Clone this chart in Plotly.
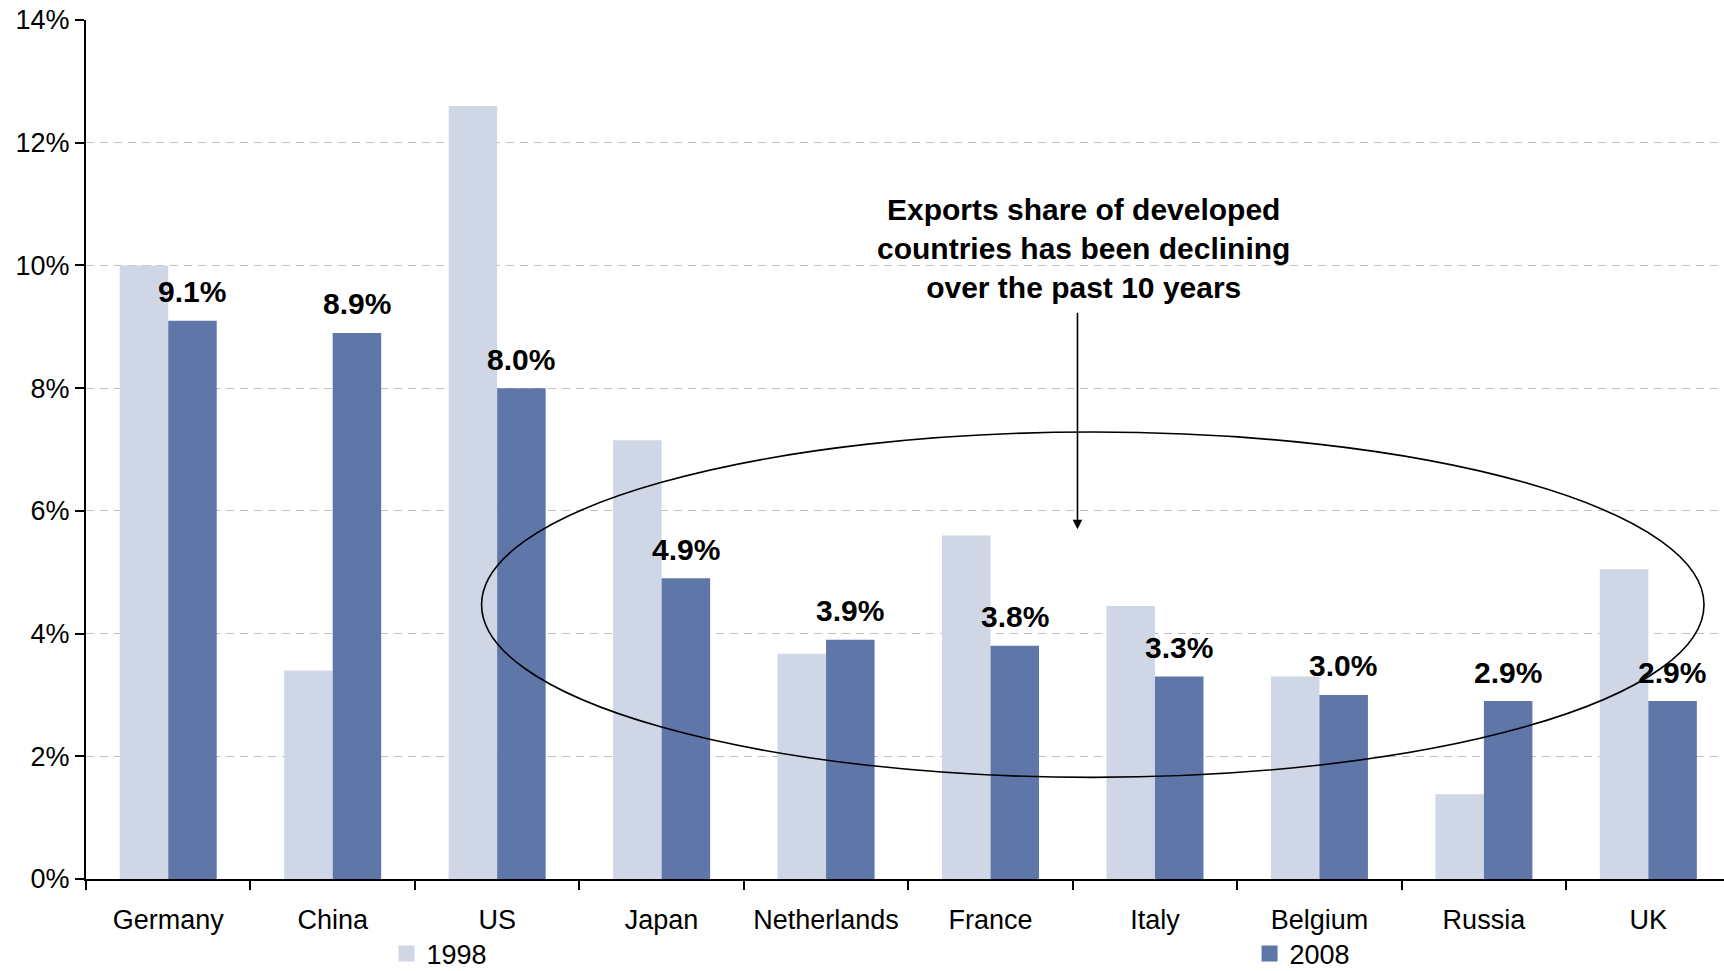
import plotly.graph_objects as go

# Share of world exports by country, 1998 vs 2008 (%)
countries = ["Germany", "China", "US", "Japan", "Netherlands",
             "France", "Italy", "Belgium", "Russia", "UK"]
share_1998 = [10.0, 3.4, 12.6, 7.15, 3.67, 5.6, 4.45, 3.3, 1.38, 5.05]
share_2008 = [9.1, 8.9, 8.0, 4.9, 3.9, 3.8, 3.3, 3.0, 2.9, 2.9]
series_names = ["1998", "2008"]
y_ticks = [0, 2, 4, 6, 8, 10, 12, 14]
y_tick_labels = ["0%", "2%", "4%", "6%", "8%", "10%", "12%", "14%"]

note = ("Exports share of developed<br>countries has been declining"
        "<br>over the past 10 years")

LIGHT = "#CFD6E6"
DARK = "#5F76A9"
FONT = "Liberation Sans, Arial, sans-serif"
colors = [LIGHT, DARK]

fig = go.Figure()
for name, vals, col in zip(series_names, [share_1998, share_2008], colors):
    fig.add_trace(go.Bar(x=countries, y=vals, name=name, showlegend=False,
                         marker=dict(color=col, line=dict(width=0))))

# legend keys: one square swatch per series, each in its own legend box
for i, (name, col) in enumerate(zip(series_names, colors)):
    fig.add_trace(go.Scatter(x=[None], y=[None], name=name, mode="markers",
                             marker=dict(symbol="square", size=16, color=col),
                             legend="legend" if i == 0 else "legend2"))

# value labels above the 2008 bars
for c, v in zip(countries, share_2008):
    fig.add_annotation(x=c, y=v, text=f"<b>{v:.1f}%</b>", showarrow=False,
                       xref="x", yref="y", xshift=24, yshift=29,
                       yanchor="middle",
                       font=dict(family=FONT, size=30, color="black"))

# callout text and arrow
fig.add_annotation(x=0.609, xref="paper", y=10.28, yref="y", text=f"<b>{note}</b>",
                   showarrow=False, xanchor="center", yanchor="middle",
                   font=dict(family=FONT, size=30, color="black"))
fig.add_annotation(x=0.6053, xref="paper", y=5.70, yref="y",
                   ax=0, ay=-218, axref="pixel", ayref="pixel",
                   text="", showarrow=True, arrowhead=2, arrowsize=1.2,
                   arrowwidth=1.6, arrowcolor="black")

# ellipse around the developed economies
fig.add_shape(type="circle", xref="paper", yref="y",
              x0=0.2415, x1=0.9878, y0=1.656, y1=7.285,
              line=dict(color="black", width=1.6))

legend_common = dict(orientation="h", xanchor="left", yanchor="middle",
                     xref="container", yref="container", y=0.0175,
                     font=dict(family=FONT, size=27, color="black"),
                     bgcolor="rgba(0,0,0,0)", itemsizing="trace")

fig.update_layout(
    width=1724, height=971,
    margin=dict(l=86, r=0, t=20, b=92, autoexpand=False),
    paper_bgcolor="white", plot_bgcolor="white",
    barmode="group", bargap=0.41, bargroupgap=0,
    font=dict(family=FONT, size=27, color="black"),
    showlegend=True,
    legend=dict(x=0.2242, **legend_common),
    legend2=dict(x=0.7248, **legend_common),
)
fig.update_xaxes(type="category", range=[-0.5, 9.46],
                 tickson="boundaries", ticks="outside", ticklen=9,
                 tickwidth=1.5, tickcolor="black",
                 showline=True, linecolor="black", linewidth=2,
                 showgrid=False, ticklabelstandoff=16,
                 tickfont=dict(family=FONT, size=27, color="black"))
fig.update_yaxes(range=[0, 14], tickvals=y_ticks, ticktext=y_tick_labels,
                 ticks="outside", ticklen=9, tickwidth=1.5, tickcolor="black",
                 showline=True, linecolor="black", linewidth=2,
                 showgrid=True, gridcolor="#BFBFBF", gridwidth=1,
                 griddash="8px,6px", zeroline=False,
                 tickfont=dict(family=FONT, size=27, color="black"))

fig.write_html("out.html")
